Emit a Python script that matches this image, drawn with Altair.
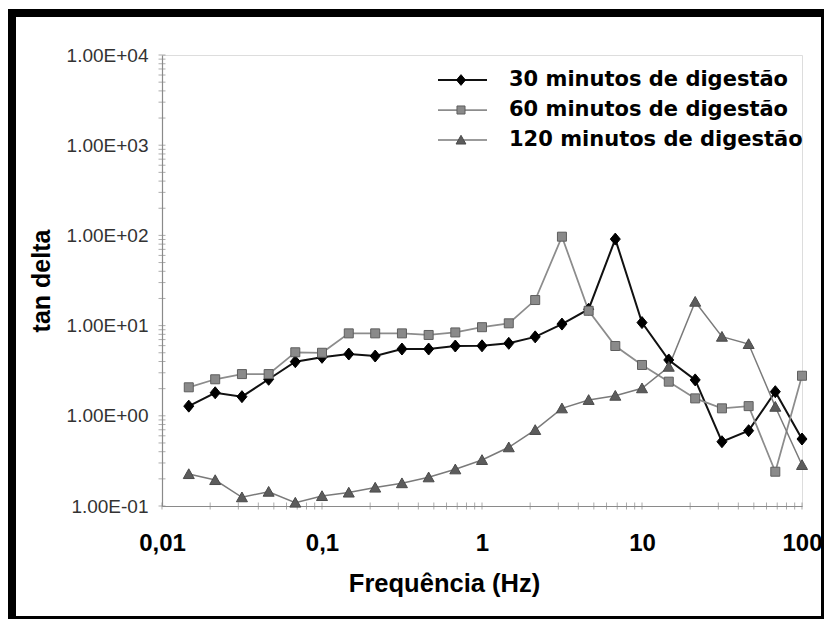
import altair as alt
import pandas as pd

# ---- data ----
freq = [0.0147, 0.0215, 0.0316, 0.0464, 0.0681, 0.1, 0.147, 0.215, 0.316, 0.464, 0.681, 1.0,
        1.47, 2.15, 3.16, 4.64, 6.81, 10.0, 14.7, 21.5, 31.6, 46.4, 68.1, 100.0]
tan_30 = [1.28, 1.80, 1.63, 2.54, 3.98, 4.45, 4.84, 4.60, 5.5, 5.5, 5.94, 5.97,
          6.36, 7.5, 10.4, 15.2, 91.0, 10.8, 4.16, 2.5, 0.516, 0.684, 1.85, 0.553]
tan_60 = [2.07, 2.54, 2.9, 2.9, 5.06, 5.0, 8.2, 8.2, 8.2, 7.87, 8.4, 9.6,
          10.6, 19.2, 96.8, 14.6, 5.94, 3.66, 2.39, 1.56, 1.21, 1.28, 0.24, 2.78]
tan_120 = [0.226, 0.194, 0.125, 0.144, 0.109, 0.129, 0.141, 0.16, 0.179, 0.208, 0.255, 0.324,
           0.448, 0.697, 1.21, 1.5, 1.67, 2.02, 3.5, 18.4, 7.53, 6.25, 1.26, 0.285]
series_names = ["30 minutos de digestão", "60 minutos de digestão", "120 minutos de digestão"]

x_tick_values = [0.01, 0.1, 1, 10, 100]
x_tick_labels = ["0,01", "0,1", "1", "10", "100"]
y_tick_values = [0.1, 1, 10, 100, 1000, 10000]
y_tick_labels = ["1.00E-01", "1.00E+00", "1.00E+01", "1.00E+02", "1.00E+03", "1.00E+04"]

# ---- styles ----
line_colors = ["#111111", "#8c8c8c", "#7a7a7a"]
line_widths = [2.0, 1.5, 1.5]
marker_fill = ["#000000", "#8a8a8a", "#5c5c5c"]
marker_stroke = ["#000000", "#5e5e5e", "#4a4a4a"]
marker_paths = ["M0,-1.2L1,0L0,1.2L-1,0Z",
                "M-0.9,-0.9H0.9V0.9H-0.9Z",
                "M0,-1.05L1.1,0.9H-1.1Z"]

rows = []
for name, vals in zip(series_names, [tan_30, tan_60, tan_120]):
    for f, v in zip(freq, vals):
        rows.append({"freq": f, "tan": v, "serie": name})
df = pd.DataFrame(rows)
legend_df = pd.DataFrame({"serie": series_names})

x_minor = sorted({round(m * 10.0 ** d, 6) for d in range(-2, 2) for m in range(1, 10)} | {100.0})
y_minor = sorted({round(m * 10.0 ** d, 6) for d in range(-1, 4) for m in range(1, 10)} | {10000.0})
xt_df = pd.DataFrame({"freq": x_minor})
yt_df = pd.DataFrame({"tan": y_minor})


def label_expr(values, labels):
    expr = "''"
    for v, l in reversed(list(zip(values, labels))):
        expr = f"abs(datum.value - {v}) < {v} * 1e-6 ? '{l}' : ({expr})"
    return expr


SANS = "Liberation Sans"

xscale = alt.Scale(type="log", domain=[0.01, 100], nice=False)
yscale = alt.Scale(type="log", domain=[0.1, 10000], nice=False)

xaxis = alt.Axis(values=x_tick_values, labelExpr=label_expr(x_tick_values, x_tick_labels),
                 ticks=False, grid=False, domainColor="#8a8a8a", domainWidth=1.2,
                 labelFont=SANS, labelFontSize=24, labelFontWeight="bold", labelColor="#000",
                 labelPadding=25, labelFlush=False,
                 title="Frequência (Hz)", titleFont=SANS, titleFontSize=25.5, titleFontWeight="bold",
                 titleColor="#000", titleX=282, titleY=85, titleBaseline="alphabetic", titleAlign="center")
yaxis = alt.Axis(values=y_tick_values, labelExpr=label_expr(y_tick_values, y_tick_labels),
                 ticks=False, grid=False, domainColor="#8a8a8a", domainWidth=1.2,
                 labelFont=SANS, labelFontSize=19, labelColor="#333", labelPadding=14,
                 labelFlush=False,
                 title="tan delta", titleFont=SANS, titleFontSize=25, titleFontWeight="bold",
                 titleColor="#000", titleX=-108, titleBaseline="bottom", titleAngle=270)

X = alt.X("freq:Q", scale=xscale, axis=xaxis)
Y = alt.Y("tan:Q", scale=yscale, axis=yaxis)

color_enc = alt.Color("serie:N", scale=alt.Scale(domain=series_names, range=line_colors), legend=None)
width_enc = alt.StrokeWidth("serie:N", scale=alt.Scale(domain=series_names, range=line_widths), legend=None)
shape_enc = alt.Shape("serie:N", scale=alt.Scale(domain=series_names, range=marker_paths), legend=None)
fill_enc = alt.Fill("serie:N", scale=alt.Scale(domain=series_names, range=marker_fill), legend=None)
stroke_enc = alt.Stroke("serie:N", scale=alt.Scale(domain=series_names, range=marker_stroke), legend=None)

lines = alt.Chart(df).mark_line().encode(x=X, y=Y, color=color_enc, strokeWidth=width_enc)

points = alt.Chart(df).mark_point(filled=True, opacity=1, strokeWidth=1, size=100).encode(
    x=X, y=Y, shape=shape_enc, fill=fill_enc, stroke=stroke_enc)

x_ticks = alt.Chart(xt_df).mark_tick(orient="vertical", size=7, thickness=1, color="#8a8a8a").encode(
    x=X, y=alt.value(451))
y_ticks = alt.Chart(yt_df).mark_tick(orient="horizontal", size=7, thickness=1, color="#8a8a8a").encode(
    y=Y, x=alt.value(0))

frame = alt.Chart(pd.DataFrame({"k": [0]})).mark_rect(filled=False, stroke="black", strokeWidth=8).encode(
    x=alt.value(-150), x2=alt.value(663), y=alt.value(-42), y2=alt.value(565))

main = alt.layer(frame, x_ticks, y_ticks, lines, points)

# ---- legend (drawn inside the plot, top right) ----
LY = alt.Y("serie:N", scale=alt.Scale(type="point", domain=series_names, range=[25, 85], padding=0), axis=None)
leg_lines = alt.Chart(legend_df).mark_rule().encode(
    x=alt.value(276), x2=alt.value(325), y=LY, color=color_enc, strokeWidth=width_enc)
leg_points = alt.Chart(legend_df).mark_point(filled=True, opacity=1, strokeWidth=1, size=80).encode(
    x=alt.value(299), y=LY, shape=shape_enc, fill=fill_enc, stroke=stroke_enc)
leg_text = alt.Chart(legend_df).mark_text(align="left", baseline="middle", font="DejaVu Sans",
                                          fontSize=21, fontWeight="bold", color="#000").encode(
    x=alt.value(347), y=LY, text="serie:N")
legend_layer = alt.layer(leg_lines, leg_points, leg_text)

chart = alt.layer(main, legend_layer).resolve_scale(y="independent").properties(
    width=640, height=451,
    padding={"left": 162, "top": 55, "right": 22, "bottom": 113},
    autosize=alt.AutoSizeParams(type="none"),
).configure_view(stroke=None).configure(background="white")

chart.save("out.html", embed_options={"renderer": "svg", "actions": False})
